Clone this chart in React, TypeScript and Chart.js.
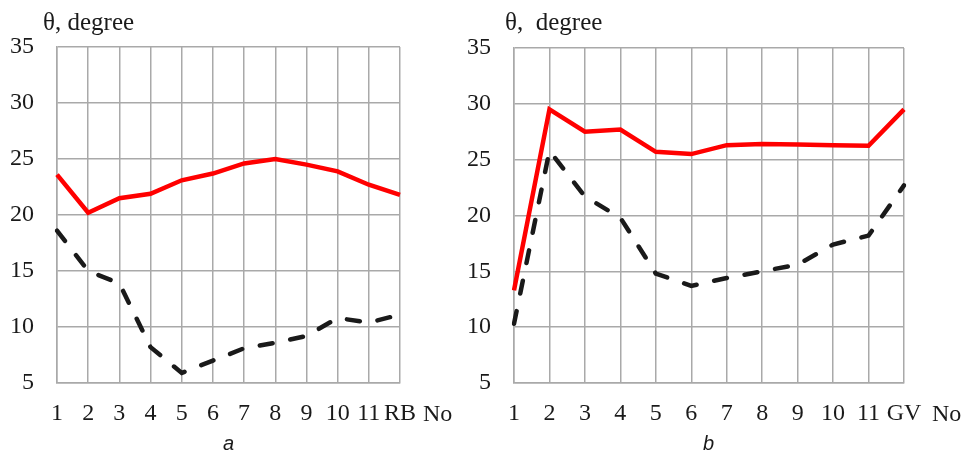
import React, { useEffect, useRef } from "react";
import { Chart, registerables } from "chart.js";

Chart.register(...registerables);

const categoriesA = ["1", "2", "3", "4", "5", "6", "7", "8", "9", "10", "11", "RB"];
const categoriesB = ["1", "2", "3", "4", "5", "6", "7", "8", "9", "10", "11", "GV"];
const redA = [23.6, 20.2, 21.5, 21.9, 23.1, 23.7, 24.6, 25.0, 24.5, 23.9, 22.7, 21.8];
const blackA = [18.6, 15.0, 13.9, 8.2, 5.9, 7.0, 8.1, 8.6, 9.2, 10.8, 10.4, 11.1];
const redB = [13.3, 29.5, 27.5, 27.7, 25.7, 25.5, 26.3, 26.4, 26.35, 26.3, 26.25, 29.5];
const blackB = [10.3, 25.8, 21.7, 19.8, 14.8, 13.7, 14.4, 15.0, 15.6, 17.4, 18.2, 22.7];
const yMin = 5;
const yMax = 35;
const yStep = 5;

const SERIF = "'Liberation Serif', 'Times New Roman', serif";
const TEXT = "#1a1a1a";
const GRID = "#a9a9a9";

type PanelProps = {
  left: number;
  width: number;
  labels: string[];
  red: number[];
  black: number[];
  axisWidth: number;
  padRight: number;
  padTop: number;
};

function Panel({ left, width, labels, red, black, axisWidth, padRight, padTop }: PanelProps) {
  const ref = useRef<HTMLCanvasElement | null>(null);
  useEffect(() => {
    if (!ref.current) return;
    const chart = new Chart(ref.current, {
      type: "line",
      data: {
        labels,
        datasets: [
          {
            data: red,
            borderColor: "#ff0000",
            borderWidth: 4.5,
            pointRadius: 0,
            tension: 0,
            fill: false,
          },
          {
            data: black,
            borderColor: "#1a1a1a",
            borderWidth: 4.5,
            borderDash: [13, 18],
            borderCapStyle: "round",
            pointRadius: 0,
            tension: 0,
            fill: false,
          },
        ],
      },
      options: {
        animation: false,
        responsive: false,
        maintainAspectRatio: false,
        layout: { padding: { top: padTop, right: padRight, bottom: 0, left: 0 } },
        plugins: { legend: { display: false }, tooltip: { enabled: false }, title: { display: false } },
        scales: {
          x: {
            type: "category",
            offset: false,
            grid: { color: GRID, lineWidth: 1.5, drawTicks: false },
            border: { color: GRID, width: 1.5 },
            ticks: {
              color: TEXT,
              font: { family: SERIF, size: 24 },
              padding: 16,
              autoSkip: false,
              maxRotation: 0,
              minRotation: 0,
            },
            afterFit: (s: any) => {
              s.height = 75;
            },
          },
          y: {
            min: yMin,
            max: yMax,
            grid: { color: GRID, lineWidth: 1.5, drawTicks: false },
            border: { color: GRID, width: 1.5 },
            ticks: {
              stepSize: yStep,
              color: TEXT,
              font: { family: SERIF, size: 24 },
              padding: 23,
            },
            afterFit: (s: any) => {
              s.width = axisWidth;
            },
          },
        },
      },
    });
    return () => chart.destroy();
  }, []);
  return (
    <canvas
      ref={ref}
      width={width}
      height={458}
      style={{ position: "absolute", left, top: 0, width, height: 458 }}
    />
  );
}

const textStyle: React.CSSProperties = {
  position: "absolute",
  fontFamily: SERIF,
  fontSize: 25,
  lineHeight: "25px",
  color: TEXT,
  whiteSpace: "pre",
};

const subStyle: React.CSSProperties = {
  position: "absolute",
  top: 433,
  fontFamily: "'Liberation Sans', Arial, sans-serif",
  fontStyle: "italic",
  fontSize: 20,
  lineHeight: "20px",
  color: TEXT,
};

export default function App() {
  return (
    <div
      style={{
        position: "fixed",
        left: 0,
        top: 0,
        width: 968,
        height: 458,
        background: "#fff",
        overflow: "hidden",
      }}
    >
      <Panel left={0} width={450} labels={categoriesA} red={redA} black={blackA} axisWidth={57} padRight={50} padTop={47} />
      <Panel left={450} width={518} labels={categoriesB} red={redB} black={blackB} axisWidth={64} padRight={64} padTop={48} />
      <span style={{ ...textStyle, left: 43, top: 9 }}>θ, degree</span>
      <span style={{ ...textStyle, left: 505, top: 9 }}>{"θ,  degree"}</span>
      <span style={{ ...textStyle, fontSize: 24, lineHeight: "24px", left: 423, top: 401 }}>No</span>
      <span style={{ ...textStyle, fontSize: 24, lineHeight: "24px", left: 932, top: 401 }}>No</span>
      <span style={{ ...subStyle, left: 223 }}>a</span>
      <span style={{ ...subStyle, left: 703 }}>b</span>
    </div>
  );
}
